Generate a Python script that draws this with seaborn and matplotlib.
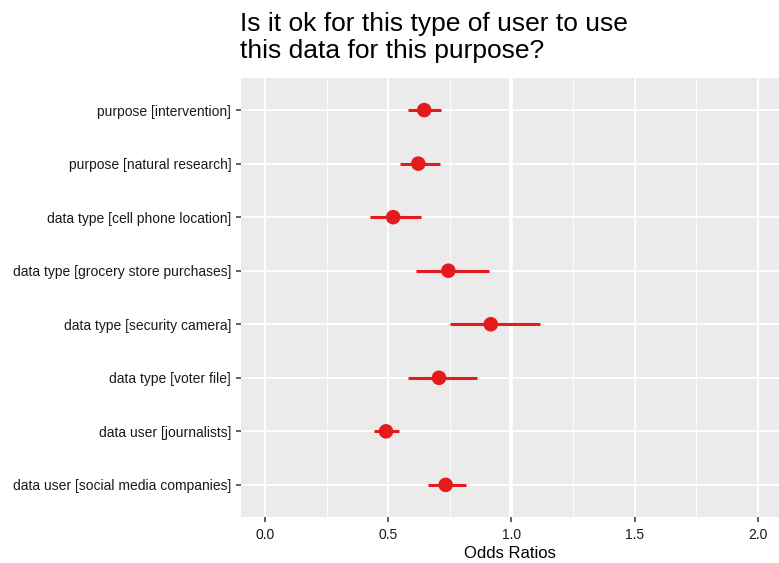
import numpy as np
import pandas as pd
import seaborn as sns
import matplotlib
matplotlib.use("Agg")
import matplotlib.pyplot as plt

terms = ["purpose [intervention]",
         "purpose [natural research]",
         "data type [cell phone location]",
         "data type [grocery store purchases]",
         "data type [security camera]",
         "data type [voter file]",
         "data user [journalists]",
         "data user [social media companies]"]
odds = [0.646, 0.622, 0.520, 0.744, 0.916, 0.706, 0.491, 0.733]
ci_low = [0.580, 0.548, 0.427, 0.611, 0.751, 0.580, 0.443, 0.660]
ci_high = [0.716, 0.710, 0.635, 0.907, 1.115, 0.861, 0.544, 0.814]
x_ticks = [0.0, 0.5, 1.0, 1.5, 2.0]

red = "#E41A1C"

sns.set_theme(style="darkgrid", rc={"axes.facecolor": "#EBEBEB"})
plt.rcParams["font.family"] = ["Liberation Sans", "DejaVu Sans"]

df = pd.DataFrame({"term": terms, "or": odds, "lo": ci_low, "hi": ci_high})
df["pos"] = np.arange(len(df))

fig = plt.figure(figsize=(7.79, 5.63), dpi=100)
ax = fig.add_axes([0.3094, 0.0817, 0.6906, 0.7798])

# minor grid + major grid, ggplot-like
for v in np.arange(0.25, 2.3, 0.5):
    ax.axvline(v, color="white", lw=0.6, zorder=0)
for v in x_ticks:
    ax.axvline(v, color="white", lw=1.3, zorder=0)
ax.axvline(1.0, color="white", lw=2.8, zorder=0)
for p in df["pos"]:
    ax.axhline(p, color="white", lw=1.3, zorder=0)

ax.hlines(df["pos"], df["lo"], df["hi"], color=red, lw=2.2, zorder=2)
sns.scatterplot(data=df, x="or", y="pos", color=red, s=110,
                edgecolor="none", zorder=3, ax=ax, legend=False)

ax.grid(False)
ax.set_xlim(-0.097, 2.085)
ax.set_ylim(len(terms) - 1 + 0.6, -0.6)
ax.set_xticks(x_ticks)
ax.set_xticklabels(["0.0", "0.5", "1.0", "1.5", "2.0"])
ax.set_yticks(df["pos"])
ax.set_yticklabels(terms)
ax.tick_params(axis="both", length=3.6, width=1.1, color="#333333",
               labelsize=10, labelcolor="#1a1a1a", left=True, bottom=True)
ax.tick_params(axis="y", pad=3.5)
ax.tick_params(axis="x", pad=4)
ax.set_xlabel("Odds Ratios", fontsize=12, color="black", labelpad=3)
ax.set_ylabel("")
for s in ax.spines.values():
    s.set_visible(False)

fig.text(0.308, 0.978, "Is it ok for this type of user to use\nthis data for this purpose?",
         fontsize=19, color="black", va="top", ha="left", linespacing=1.15)

fig.savefig("out.png", dpi=100)
